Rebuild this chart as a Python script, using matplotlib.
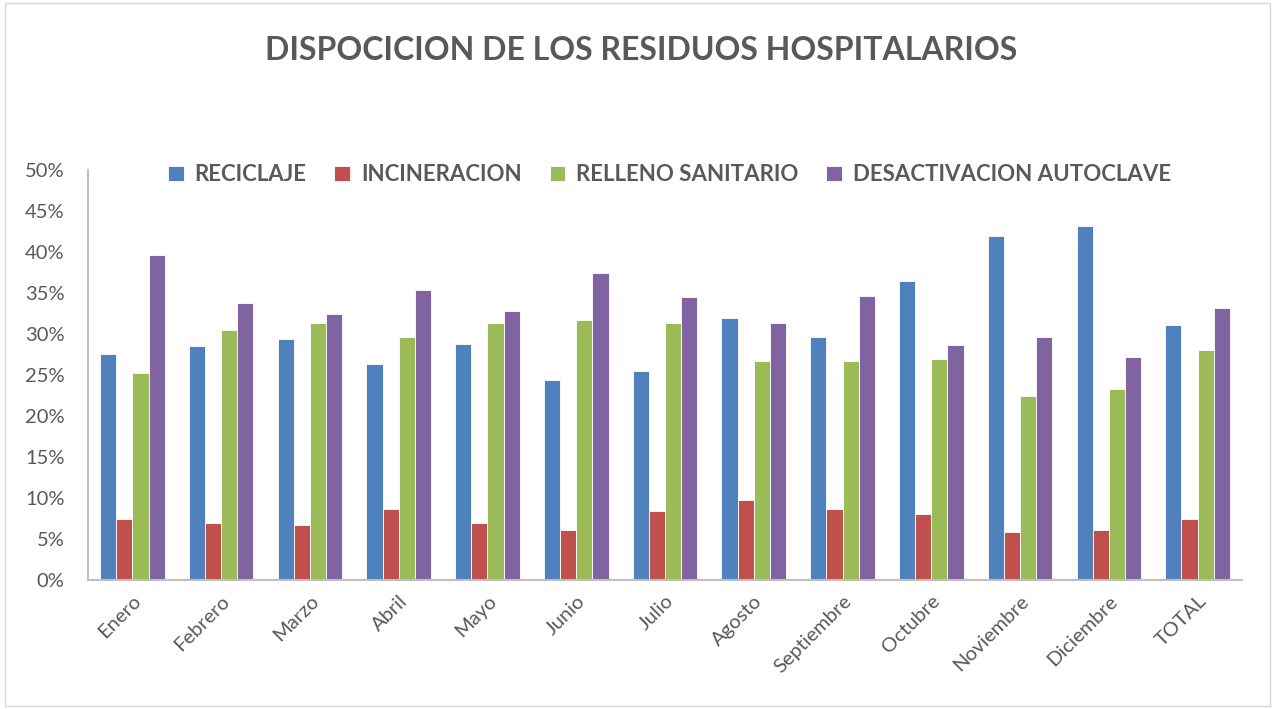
import matplotlib
matplotlib.use("Agg")
import matplotlib.pyplot as plt
import numpy as np
from matplotlib.ticker import MultipleLocator, FuncFormatter
from matplotlib.patches import Rectangle

categories = ["Enero", "Febrero", "Marzo", "Abril", "Mayo", "Junio", "Julio",
              "Agosto", "Septiembre", "Octubre", "Noviembre", "Diciembre", "TOTAL"]
reciclaje = [27.6, 28.5, 29.4, 26.3, 28.8, 24.4, 25.5, 31.9, 29.6, 36.5, 42.0, 43.2, 31.1]
incineracion = [7.5, 7.0, 6.7, 8.6, 6.9, 6.1, 8.4, 9.7, 8.7, 8.0, 5.8, 6.1, 7.5]
relleno = [25.2, 30.5, 31.3, 29.6, 31.4, 31.7, 31.3, 26.7, 26.7, 26.9, 22.5, 23.3, 28.1]
desactivacion = [39.6, 33.8, 32.4, 35.4, 32.8, 37.5, 34.5, 31.4, 34.6, 28.6, 29.6, 27.2, 33.2]
series_names = ["RECICLAJE", "INCINERACION", "RELLENO SANITARIO", "DESACTIVACION AUTOCLAVE"]
colors = ["#4F81BD", "#C0504D", "#9BBB59", "#8064A2"]

plt.rcParams['font.family'] = ['Lato', 'DejaVu Sans']
txt = "#595959"

fig = plt.figure(figsize=(12.75, 7.09), dpi=100)
ax = fig.add_axes([88/1275, 1 - 580/709, (1242-88)/1275, (580-170)/709])

x = np.arange(len(categories))
w = 0.182
data = [reciclaje, incineracion, relleno, desactivacion]
for i, (vals, c, n) in enumerate(zip(data, colors, series_names)):
    ax.bar(x + (i - 1.5) * w, [v / 100 for v in vals], width=w, color=c,
           edgecolor="white", linewidth=0.6, label=n, zorder=2)

ax.set_xlim(-0.5, len(categories) - 0.5)
ax.set_ylim(0, 0.5)
ax.yaxis.set_major_locator(MultipleLocator(0.05))
ax.yaxis.set_major_formatter(FuncFormatter(lambda v, p: f"{v*100:.0f}%"))
ax.set_xticks(x)
ax.set_xticklabels(categories, rotation=45, ha="right", rotation_mode="anchor",
                   fontsize=14.5, color=txt)
ax.tick_params(axis="y", labelsize=14.5, labelcolor=txt, length=0, pad=17)
ax.tick_params(axis="x", length=0, pad=9)
for s in ["top", "right"]:
    ax.spines[s].set_visible(False)
for s in ["left", "bottom"]:
    ax.spines[s].set_color("#BFBFBF")
    ax.spines[s].set_linewidth(1.5)

leg = ax.legend(loc="center", bbox_to_anchor=(0.504, 0.988), ncol=4, frameon=False,
                handlelength=0.7, handleheight=0.7, columnspacing=1.25, handletextpad=0.5,
                prop={"size": 16, "weight": "bold"})
for t in leg.get_texts():
    t.set_color(txt)

fig.text(0.503, 1 - 50/709, "DISPOCICION DE LOS RESIDUOS HOSPITALARIOS", ha="center", va="center",
         fontsize=23, fontweight="bold", color=txt)

fig.patches.append(Rectangle((0.004, 0.004), 0.992, 0.992, transform=fig.transFigure,
                             fill=False, edgecolor="#D9D9D9", linewidth=1))

fig.savefig("out.png", dpi=100)
